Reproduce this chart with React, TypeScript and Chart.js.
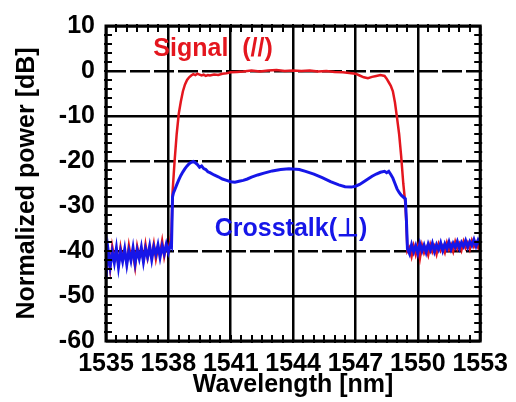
import React, { useEffect, useRef } from "react";
import { Chart, registerables } from "chart.js";

Chart.register(...registerables);

// ---- axis ticks ----
const xTicks = [1535, 1538, 1541, 1544, 1547, 1550, 1553];
const yTicks = [-60, -50, -40, -30, -20, -10, 0, 10];
const dashedLevels = [0, -20, -40];

// ---- noisy floor, left of the passband ----
const noiseLeftWl = [
  1535.0, 1535.1, 1535.2, 1535.3, 1535.4, 1535.5, 1535.6, 1535.7, 1535.8, 1535.9,
  1536.0, 1536.1, 1536.2, 1536.3, 1536.4, 1536.5, 1536.6, 1536.7, 1536.8, 1536.9,
  1537.0, 1537.1, 1537.2, 1537.3, 1537.4, 1537.5, 1537.6, 1537.7, 1537.8, 1537.9,
  1538.0, 1538.1,
];
const crosstalkNoiseLeft = [
  -46.0, -39.8, -43.4, -40.2, -42.6, -39.4, -43.5, -40.1, -42.3, -39.6,
  -43.0, -40.0, -42.1, -39.3, -42.7, -39.8, -41.7, -39.2, -42.4, -39.5,
  -41.3, -38.9, -41.9, -39.1, -40.8, -38.7, -41.4, -38.9, -40.6, -38.5,
  -40.3, -38.6,
];
const signalNoiseLeft = [
  -42.0, -40.5, -44.0, -39.0, -41.5, -40.8, -43.0, -39.2, -41.8, -40.4,
  -42.6, -38.8, -41.5, -40.6, -43.5, -39.0, -41.2, -40.1, -42.0, -38.6,
  -41.6, -39.6, -40.9, -38.4, -41.7, -39.2, -40.5, -37.8, -41.2, -38.9,
  -40.0, -37.6,
];

// ---- noisy floor, right of the passband ----
const noiseRightWl = [
  1549.5, 1549.6, 1549.7, 1549.8, 1549.9, 1550.0, 1550.1, 1550.2, 1550.3, 1550.4,
  1550.5, 1550.6, 1550.7, 1550.8, 1550.9, 1551.0, 1551.1, 1551.2, 1551.3, 1551.4,
  1551.5, 1551.6, 1551.7, 1551.8, 1551.9, 1552.0, 1552.1, 1552.2, 1552.3, 1552.4,
  1552.5, 1552.6, 1552.7, 1552.8, 1552.9, 1553.0,
];
const crosstalkNoiseRight = [
  -39.5, -40.6, -38.6, -40.2, -38.8, -40.5, -38.4, -40.0, -38.7, -40.3,
  -38.5, -39.8, -38.3, -40.1, -38.6, -39.7, -38.2, -39.9, -38.4, -39.5,
  -38.0, -39.6, -38.3, -39.2, -37.9, -39.4, -38.1, -39.0, -37.7, -39.1,
  -37.9, -38.8, -37.5, -38.9, -37.6, -38.6,
];
const signalNoiseRight = [
  -40.0, -39.2, -41.2, -38.9, -40.8, -39.0, -41.6, -38.7, -40.4, -39.3,
  -40.9, -38.6, -40.2, -39.0, -40.7, -38.5, -39.9, -38.9, -40.3, -38.2,
  -39.7, -38.6, -40.1, -38.0, -39.5, -38.4, -39.8, -37.9, -39.3, -38.2,
  -39.6, -37.7, -39.0, -38.1, -39.2, -37.6,
];

// ---- passband: Signal (//) ----
const signalWl = [
  1538.15, 1538.2, 1538.3, 1538.4, 1538.5, 1538.6, 1538.7, 1538.8, 1538.9, 1539.0,
  1539.1, 1539.2, 1539.3, 1539.4, 1539.5, 1539.6, 1539.7, 1539.8, 1539.9, 1540.0,
  1540.2, 1540.4, 1540.6, 1540.8, 1541.0, 1541.3, 1541.6, 1542.0, 1542.4, 1542.8,
  1543.2, 1543.6, 1544.0, 1544.4, 1544.8, 1545.2, 1545.6, 1546.0, 1546.4, 1546.8,
  1547.0, 1547.2, 1547.4, 1547.6, 1547.8, 1548.0, 1548.2, 1548.4, 1548.5, 1548.6,
  1548.7, 1548.8, 1548.9, 1549.0, 1549.1, 1549.2, 1549.3, 1549.4, 1549.45,
];
const signalDb = [
  -36, -27, -20, -14, -9.5, -6.8, -4.5, -3.0, -2.0, -1.4,
  -1.0, -0.7, -0.9, -0.6, -0.8, -1.0, -0.8, -1.1, -0.9, -1.0,
  -0.8, -0.9, -0.6, -0.5, -0.3, -0.2, -0.1, 0.1, -0.1, 0.1,
  0.2, 0.0, 0.1, 0.0, 0.1, -0.1, 0.0, -0.2, -0.3, -0.5,
  -0.6, -1.0, -1.4, -1.6, -1.3, -1.1, -0.9, -1.1, -1.7, -2.5,
  -3.3, -4.5, -7.0, -10.4, -14.0, -19.0, -25.0, -29.5, -34.0,
];

// ---- passband: Crosstalk(⊥) ----
const crosstalkWl = [
  1538.15, 1538.2, 1538.25, 1538.3, 1538.4, 1538.5, 1538.6, 1538.7, 1538.8, 1538.9,
  1539.0, 1539.1, 1539.2, 1539.3, 1539.4, 1539.5, 1539.6, 1539.7, 1539.8, 1539.9,
  1540.0, 1540.2, 1540.4, 1540.6, 1540.8, 1541.0, 1541.2, 1541.4, 1541.6, 1541.8,
  1542.0, 1542.3, 1542.6, 1543.0, 1543.4, 1543.8, 1544.0, 1544.3, 1544.6, 1545.0,
  1545.4, 1545.8, 1546.2, 1546.5, 1546.8, 1547.0, 1547.2, 1547.4, 1547.6, 1547.8,
  1548.0, 1548.2, 1548.4, 1548.5, 1548.6, 1548.7, 1548.8, 1548.9, 1549.0, 1549.1,
  1549.2, 1549.3, 1549.4, 1549.45,
];
const crosstalkDb = [
  -39, -28, -27, -26.5, -25.3, -24.2, -23.2, -22.4, -21.7, -21.1,
  -20.6, -20.3, -20.1, -20.4, -20.8, -21.4, -21.1, -21.7, -21.9, -22.4,
  -22.6, -23.1, -23.5, -24.0, -24.3, -24.6, -24.7, -24.5, -24.3, -24.0,
  -23.6, -23.1, -22.7, -22.2, -21.9, -21.7, -21.8, -21.9, -22.3, -22.9,
  -23.7, -24.6, -25.3, -25.7, -25.8, -25.6, -25.2, -24.6, -24.0, -23.4,
  -22.9, -22.5, -22.3, -22.6, -22.3, -23.0, -23.8, -25.0, -26.2, -27.0,
  -27.6, -28.0, -28.4, -33,
];

const FONT = "'Liberation Sans', Arial, sans-serif";
const RED = "rgb(228,22,30)";
const BLUE = "rgb(22,22,232)";

const pts = (xs: number[], ys: number[]) => xs.map((x, i) => ({ x, y: ys[i] }));

const framePlugin = {
  id: "frameTicks",
  afterDatasetsDraw(chart: any) {
    const { ctx, chartArea, scales } = chart;
    const { left, right, top, bottom } = chartArea;
    const xs = scales.x;
    const ys = scales.y;
    ctx.save();
    ctx.strokeStyle = "#000";
    ctx.lineWidth = 2;
    ctx.beginPath();
    for (let v = xs.min + 0.5; v < xs.max; v += 0.5) {
      const px = Math.round(xs.getPixelForValue(v));
      ctx.moveTo(px, bottom + 2);
      ctx.lineTo(px, bottom - 6);
      ctx.moveTo(px, top - 2);
      ctx.lineTo(px, top + 6);
    }
    for (let v = ys.min + 2; v < ys.max; v += 2) {
      const py = Math.round(ys.getPixelForValue(v));
      ctx.moveTo(left - 2, py);
      ctx.lineTo(left + 6, py);
      ctx.moveTo(right + 2, py);
      ctx.lineTo(right - 6, py);
    }
    ctx.stroke();
    ctx.lineWidth = 3;
    ctx.strokeRect(left, top, right - left, bottom - top);
    ctx.restore();
  },
  afterDraw(chart: any) {
    const { ctx, scales } = chart;
    const xs = scales.x;
    const ys = scales.y;
    ctx.save();
    ctx.font = `bold 25px ${FONT}`;
    ctx.textAlign = "center";
    ctx.textBaseline = "middle";
    ctx.fillStyle = RED;
    ctx.fillText("Signal  (//)", xs.getPixelForValue(1540.15), ys.getPixelForValue(4.8));
    ctx.fillStyle = BLUE;
    ctx.fillText("Crosstalk(⊥)", xs.getPixelForValue(1543.9), ys.getPixelForValue(-35.2));
    ctx.restore();
  },
};

export default function App() {
  const ref = useRef<HTMLCanvasElement | null>(null);
  useEffect(() => {
    if (!ref.current) return;
    const signal = [
      ...pts(noiseLeftWl, signalNoiseLeft),
      ...pts(signalWl, signalDb),
      ...pts(noiseRightWl, signalNoiseRight),
    ];
    const crosstalk = [
      ...pts(noiseLeftWl, crosstalkNoiseLeft),
      ...pts(crosstalkWl, crosstalkDb),
      ...pts(noiseRightWl, crosstalkNoiseRight),
    ];
    const tickFont = { family: FONT, size: 25, weight: "bold" as const };
    const chart = new Chart(ref.current, {
      type: "line",
      data: {
        datasets: [
          {
            label: "Crosstalk(⊥)",
            data: crosstalk,
            borderColor: BLUE,
            borderWidth: 3,
            pointRadius: 0,
            tension: 0,
          },
          {
            label: "Signal (//)",
            data: signal,
            borderColor: RED,
            borderWidth: 2.5,
            pointRadius: 0,
            tension: 0,
          },
        ],
      },
      options: {
        responsive: false,
        animation: false,
        layout: { padding: { top: 25, right: 29, left: 0, bottom: 0 } },
        plugins: { legend: { display: false }, tooltip: { enabled: false } },
        scales: {
          x: {
            type: "linear",
            min: 1535,
            max: 1553,
            afterBuildTicks: (s: any) => {
              s.ticks = xTicks.map((v) => ({ value: v }));
            },
            afterFit: (s: any) => {
              s.height = 61;
            },
            grid: { color: "#000", lineWidth: 2.5, drawTicks: false },
            border: { display: false },
            ticks: {
              font: tickFont,
              color: "#000",
              padding: 8,
              maxRotation: 0,
              autoSkip: false,
              callback: (v: any) => String(v),
            },
            title: {
              display: true,
              text: "Wavelength [nm]",
              color: "#000",
              font: tickFont,
              padding: { top: 0, bottom: 2 },
            },
          },
          y: {
            type: "linear",
            min: -60,
            max: 10,
            afterBuildTicks: (s: any) => {
              s.ticks = yTicks.map((v) => ({ value: v }));
            },
            afterFit: (s: any) => {
              s.width = 106;
            },
            grid: { color: "#000", lineWidth: 2.5, drawTicks: false },
            border: {
              display: false,
              dash: (c: any) =>
                c.tick && dashedLevels.includes(c.tick.value) ? [20, 4] : [],
            } as any,
            ticks: {
              font: tickFont,
              color: "#000",
              padding: 11,
              autoSkip: false,
              callback: (v: any) => String(v),
            },
            title: {
              display: true,
              text: "Normalized power [dB]",
              color: "#000",
              font: tickFont,
              padding: { top: 12, bottom: 0 },
            },
          },
        },
      },
      plugins: [framePlugin],
    });
    return () => chart.destroy();
  }, []);
  return (
    <canvas
      ref={ref}
      width={516}
      height={402}
      style={{ position: "fixed", left: 0, top: 0, display: "block" }}
    />
  );
}
